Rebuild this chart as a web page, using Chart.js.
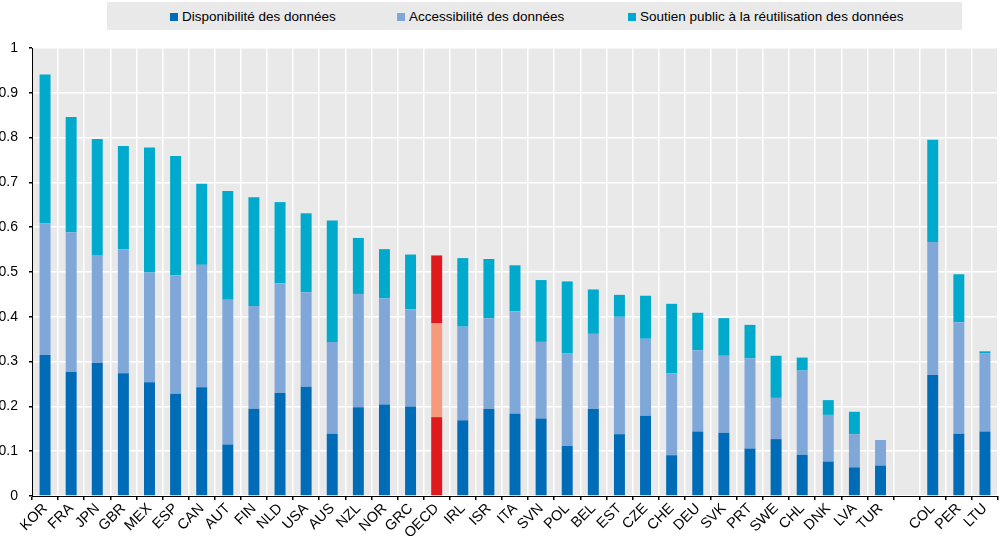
<!DOCTYPE html>
<html>
<head>
<meta charset="utf-8">
<script src="https://cdn.jsdelivr.net/npm/chart.js@4"></script>
<style>
  html, body { margin: 0; padding: 0; background: #fff; }
  #wrap { position: relative; width: 1000px; height: 536px; }
  #legend {
    position: absolute; left: 107px; top: 2px; width: 855px; height: 28px;
    background: #e9e9e9; font-family: "Liberation Sans", Arial, sans-serif; font-size: 13.5px; color: #000;
  }
  .item { position: absolute; top: 7px; white-space: nowrap; }
  .sw { display: inline-block; width: 8px; height: 8px; margin-right: 4px; vertical-align: 0px; }
  canvas { position: absolute; left: 0; top: 0; }
</style>
</head>
<body>
<div id="wrap">
  <canvas id="chart" width="1000" height="536"></canvas>
  <div id="legend"></div>
</div>
<script>
// ===== DATA =====
const countries = ['KOR','FRA','JPN','GBR','MEX','ESP','CAN','AUT','FIN','NLD','USA','AUS','NZL','NOR','GRC','OECD',
  'IRL','ISR','ITA','SVN','POL','BEL','EST','CZE','CHE','DEU','SVK','PRT','SWE','CHL','DNK','LVA','TUR','','COL','PER','LTU'];

const disponibilite = [0.315,0.277,0.297,0.274,0.254,0.228,0.243,0.115,0.195,0.230,0.244,0.139,0.198,0.204,0.200,0.176,
  0.169,0.194,0.184,0.173,0.112,0.195,0.138,0.179,0.091,0.144,0.141,0.106,0.127,0.092,0.077,0.064,0.068,null,0.270,0.139,0.144];

const accessibilite = [0.294,0.312,0.241,0.277,0.245,0.265,0.273,0.323,0.229,0.245,0.211,0.205,0.253,0.237,0.217,0.210,
  0.209,0.203,0.228,0.171,0.206,0.167,0.262,0.172,0.183,0.181,0.172,0.201,0.092,0.188,0.104,0.074,0.057,null,0.297,0.249,0.174];

const soutien = [0.332,0.257,0.259,0.230,0.279,0.266,0.181,0.243,0.243,0.181,0.176,0.271,0.125,0.110,0.122,0.151,
  0.153,0.132,0.103,0.138,0.161,0.099,0.049,0.096,0.155,0.084,0.084,0.075,0.094,0.029,0.033,0.050,0,null,0.228,0.107,0.005];

const seriesLabels = ['Disponibilité des données', 'Accessibilité des données', 'Soutien public à la réutilisation des données'];
const seriesColors = ['#006bb6', '#7fa8d9', '#00aacc'];
const oecdColors = ['#e0191f', '#f59a7c', '#e0191f'];
const yTicks = [0, 0.1, 0.2, 0.3, 0.4, 0.5, 0.6, 0.7, 0.8, 0.9, 1];

// ===== LEGEND (html) =====
const legendPos = [170, 397, 628];
const legend = document.getElementById('legend');
seriesLabels.forEach((lab, i) => {
  const d = document.createElement('div');
  d.className = 'item';
  d.style.left = (legendPos[i] - 107) + 'px';
  d.innerHTML = `<span class="sw" style="background:${seriesColors[i]}"></span>${lab}`;
  legend.appendChild(d);
});

// ===== CHART =====
const colorsFor = (k) => countries.map(c => c === 'OECD' ? oecdColors[k] : seriesColors[k]);
const values = [disponibilite, accessibilite, soutien];

const datasets = values.map((v, k) => ({
  label: seriesLabels[k],
  data: v,
  backgroundColor: colorsFor(k),
  borderWidth: 0,
  barPercentage: 0.42,
  categoryPercentage: 1,
}));

// plot background
const bgPlugin = {
  id: 'bg',
  beforeDraw(chart) {
    const { ctx, chartArea: a } = chart;
    ctx.save();
    ctx.fillStyle = '#e9e9e9';
    ctx.fillRect(a.left, a.top, a.right - a.left, a.bottom - a.top);
    ctx.restore();
  }
};

const family = '"Liberation Sans", Arial, sans-serif';

new Chart(document.getElementById('chart'), {
  type: 'bar',
  data: { labels: countries, datasets },
  plugins: [bgPlugin],
  options: {
    responsive: false,
    animation: false,
    layout: { padding: { top: 48, right: 2, left: 0, bottom: 0 } },
    plugins: { legend: { display: false }, tooltip: { enabled: false } },
    scales: {
      x: {
        stacked: true,
        grid: { color: '#ffffff', lineWidth: 1.5, tickColor: '#000', tickLength: 4, offset: true },
        border: { color: '#000', width: 1 },
        ticks: { color: '#000', font: { family, size: 14.5 }, minRotation: 45, maxRotation: 45, autoSkip: false, padding: 0 },
        afterFit(scale) { scale.height = 40; },
      },
      y: {
        stacked: true,
        min: 0, max: 1,
        afterBuildTicks(scale) { scale.ticks = yTicks.map(v => ({ value: v })); },
        grid: { color: '#ffffff', lineWidth: 1.5, tickColor: '#000', tickLength: 3 },
        border: { color: '#000', width: 1 },
        ticks: { color: '#000', font: { family, size: 14 }, padding: 11, callback: v => String(+v.toFixed(1)) },
        afterFit(scale) { scale.width = 32; },
      },
    },
  },
});
</script>
</body>
</html>
